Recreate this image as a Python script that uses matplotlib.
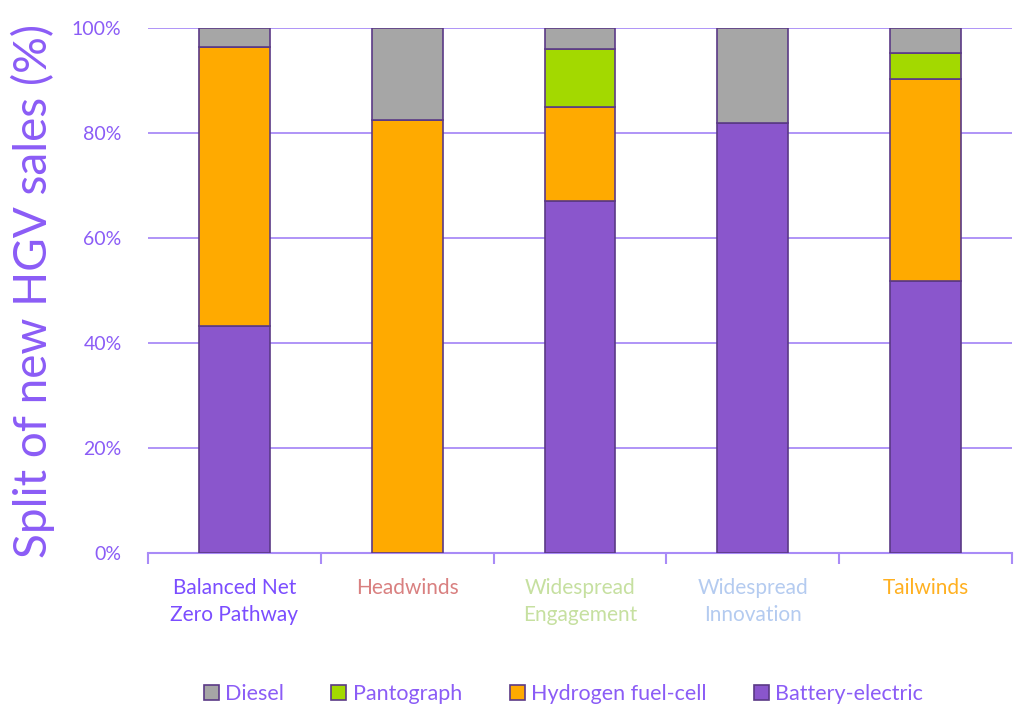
import matplotlib
matplotlib.use("Agg")
import matplotlib.pyplot as plt
import numpy as np

# Scenario split of new HGV sales (%)
scenarios = ["Balanced Net\nZero Pathway", "Headwinds", "Widespread\nEngagement",
             "Widespread\nInnovation", "Tailwinds"]
battery = [43.2, 0.0, 67.0, 81.9, 51.8]
hydrogen = [53.2, 82.5, 18.0, 0.0, 38.5]
pantograph = [0.0, 0.0, 11.0, 0.0, 4.9]
diesel = [3.6, 17.5, 4.0, 18.1, 4.8]

label_colors = ["#7b4dff", "#d98080", "#c6e0a0", "#b4cbf0", "#ffb020"]
purple = "#8b5cf6"

plt.rcParams["font.family"] = ["Lato", "DejaVu Sans"]

fig = plt.figure(figsize=(10.19, 7.08), dpi=100)
ax = fig.add_axes([0.1452, 0.219, 0.848, 0.7415])

x = np.arange(len(scenarios))
w = 0.41
edge = "#5b3a86"
bottom = np.zeros(len(x))
series = [("Battery-electric", battery, "#8a56cc"),
          ("Hydrogen fuel-cell", hydrogen, "#ffaa00"),
          ("Pantograph", pantograph, "#a3d900"),
          ("Diesel", diesel, "#a6a6a6")]
handles = {}
for name, vals, col in series:
    vals = np.array(vals)
    h = ax.bar(x, vals, w, bottom=bottom, color=col, edgecolor=edge, linewidth=1.2,
               label=name, zorder=3)
    handles[name] = h
    bottom += vals

ax.set_xlim(-0.5, len(x) - 0.5)
ax.set_ylim(0, 100)
ax.set_yticks(range(0, 101, 20))
ax.set_yticklabels([f"{v}%" for v in range(0, 101, 20)], color=purple, fontsize=14)
ax.yaxis.grid(True, color="#a98bf7", linewidth=1.3, zorder=0)
ax.tick_params(axis="y", length=0, pad=19)

ax.set_xticks(x)
ax.set_xticklabels(scenarios, fontsize=15, linespacing=1.45)
for lbl, c in zip(ax.get_xticklabels(), label_colors):
    lbl.set_color(c)
ax.tick_params(axis="x", length=0, pad=18)
ax.set_xticks(np.arange(-0.5, len(x)), minor=True)
ax.tick_params(axis="x", which="minor", length=8, color="#a98bf7", width=1.5, direction="out")

for s in ["top", "right", "left"]:
    ax.spines[s].set_visible(False)
ax.spines["bottom"].set_color("#a98bf7")
ax.spines["bottom"].set_linewidth(1.5)

ax.set_ylabel("Split of new HGV sales (%)", color=purple, fontsize=33, labelpad=12)

order = ["Diesel", "Pantograph", "Hydrogen fuel-cell", "Battery-electric"]
leg = fig.legend([handles[n] for n in order], order, loc="center", ncol=4,
                 bbox_to_anchor=(0.553, 0.02), frameon=False, fontsize=15.5,
                 handlelength=0.7, handleheight=0.7, columnspacing=2.2, handletextpad=0.3)
for t in leg.get_texts():
    t.set_color(purple)

fig.savefig("out.png", dpi=100)
